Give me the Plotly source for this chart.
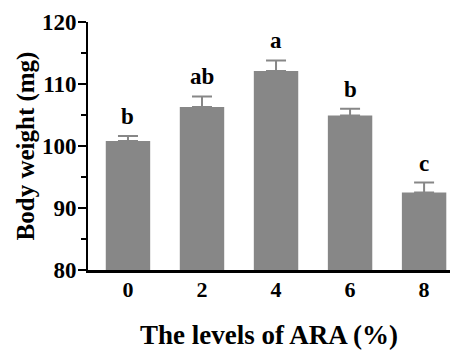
import plotly.graph_objects as go

categories = ["0", "2", "4", "6", "8"]
values = [100.8, 106.3, 112.1, 104.9, 92.5]
errors = [0.8, 1.7, 1.7, 1.1, 1.6]
letters = ["b", "ab", "a", "b", "c"]
y_ticks = [80, 90, 100, 110, 120]

FONT = "Liberation Serif"
BAR = "#878787"

fig = go.Figure()
fig.add_trace(go.Bar(
    x=categories, y=values, width=0.6,
    marker=dict(color=BAR, line=dict(width=0)),
    error_y=dict(type="data", array=errors, arrayminus=[0]*len(errors),
                 symmetric=False, color=BAR, thickness=2, width=10),
))
for i, (v, e, t) in enumerate(zip(values, errors, letters)):
    fig.add_annotation(x=i, y=v + e, text="<b>%s</b>" % t, showarrow=False,
                       yanchor="bottom", yshift=5,
                       font=dict(family=FONT, size=23, color="black"))

fig.update_layout(
    width=450, height=350,
    margin=dict(l=88, r=0, t=22, b=80, autoexpand=False),
    paper_bgcolor="white", plot_bgcolor="white",
    showlegend=False,
    font=dict(family=FONT, color="black"),
    xaxis=dict(
        type="category", range=[-0.54, 4.35], automargin=False,
        showline=True, linecolor="black", linewidth=3,
        ticks="", showgrid=False, zeroline=False,
        ticklabelstandoff=-2,
        tickfont=dict(family=FONT, size=22, color="black"),
        tickprefix="<b>", ticksuffix="</b>",
        title=dict(text="<b>The levels of ARA (%)</b>", standoff=27,
                   font=dict(family=FONT, size=27, color="black")),
    ),
    yaxis=dict(
        range=[80, 120], tickvals=y_ticks, automargin=False,
        ticktext=["<b>%d</b>" % v for v in y_ticks],
        showline=True, linecolor="black", linewidth=2,
        ticks="outside", ticklen=8, tickwidth=2, tickcolor="black",
        minor=dict(dtick=5, tick0=80, ticks="outside", ticklen=5, tickwidth=2, tickcolor="black"),
        showgrid=False, zeroline=False,
        ticklabelstandoff=-3,
        tickfont=dict(family=FONT, size=23, color="black"),
        title=dict(text="<b>Body weight (mg)</b>", standoff=0,
                   font=dict(family=FONT, size=25, color="black")),
    ),
)

fig.write_html("out.html", config={"displayModeBar": False},
               post_script="document.body.style.margin='0';document.body.style.padding='0';")
